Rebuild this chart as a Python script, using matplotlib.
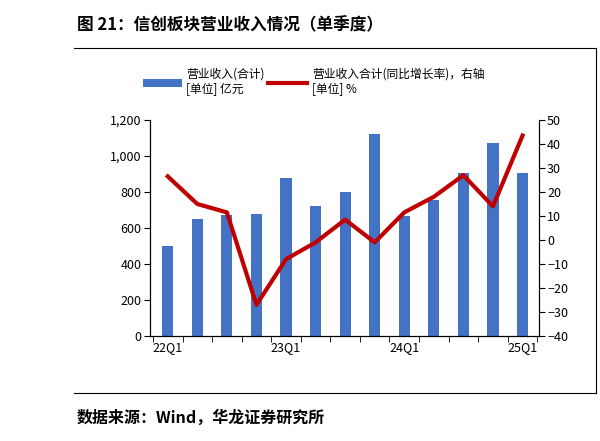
import matplotlib
matplotlib.use("Agg")
import matplotlib.pyplot as plt
import numpy as np

plt.rcParams['font.family'] = ['Noto Sans CJK SC', 'DejaVu Sans']

quarters = ['22Q1','22Q2','22Q3','22Q4','23Q1','23Q2','23Q3','23Q4','24Q1','24Q2','24Q3','24Q4','25Q1']
revenue = [500, 652, 672, 675, 875, 722, 800, 1120, 665, 755, 905, 1070, 905]
growth = [26.5, 15, 11.5, -27, -8, -1, 8.5, -1, 11.5, 18, 27, 14, 43.5]
shown_labels = {0: '22Q1', 4: '23Q1', 8: '24Q1', 12: '25Q1'}

fig = plt.figure(figsize=(6, 4.41), dpi=100)
ax = fig.add_axes([0.25, 0.238, 0.648, 0.49])
x = np.arange(len(quarters))
ax.bar(x, revenue, width=0.38, color='#4472C4', label='营业收入(合计)\n[单位] 亿元')
ax.set_ylim(0, 1200)
ax.set_xlim(-0.6, len(quarters) - 0.45)
ax.set_yticks(range(0, 1201, 200))
ax.set_yticklabels([f'{v:,}' for v in range(0, 1201, 200)], fontsize=9)
ax.set_xticks([k for k in shown_labels])
ax.set_xticklabels([shown_labels[k] for k in shown_labels], fontsize=9)
ax.tick_params(axis='x', length=0)
ax.set_xticks(np.arange(-0.5, len(quarters), 1), minor=True)
ax.tick_params(axis='x', which='minor', length=4, direction='out')
ax.tick_params(axis='y', length=4, direction='out', pad=2)
ax.spines['top'].set_visible(False)

ax2 = ax.twinx()
ax2.plot(x, growth, color='#C00000', lw=3, label='营业收入合计(同比增长率)，右轴\n[单位] %')
ax2.set_ylim(-40, 50)
ax2.set_yticks(range(-40, 51, 10))
ax2.tick_params(axis='y', labelsize=9, length=4, pad=2)
ax2.spines['top'].set_visible(False)

h1, l1 = ax.get_legend_handles_labels()
h2, l2 = ax2.get_legend_handles_labels()
fig.legend(h1 + h2, l1 + l2, loc='upper left', bbox_to_anchor=(0.22, 0.87), ncol=2,
           frameon=False, fontsize=8.5, handlelength=3.3, columnspacing=0.3, handletextpad=0.4)

fig.text(0.128, 0.943, '图 21：信创板块营业收入情况（单季度）', fontsize=12, fontweight='bold', va='center')
fig.add_artist(plt.Line2D([0.123, 0.993], [0.891, 0.891], color='black', lw=0.8))
fig.add_artist(plt.Line2D([0.993, 0.993], [0.109, 0.891], color='black', lw=0.8))
fig.text(0.128, 0.052, '数据来源：Wind，华龙证券研究所', fontsize=11.5, fontweight='bold', va='center')
fig.add_artist(plt.Line2D([0.123, 0.993], [0.109, 0.109], color='black', lw=0.8))
fig.savefig('out.png', dpi=100)
